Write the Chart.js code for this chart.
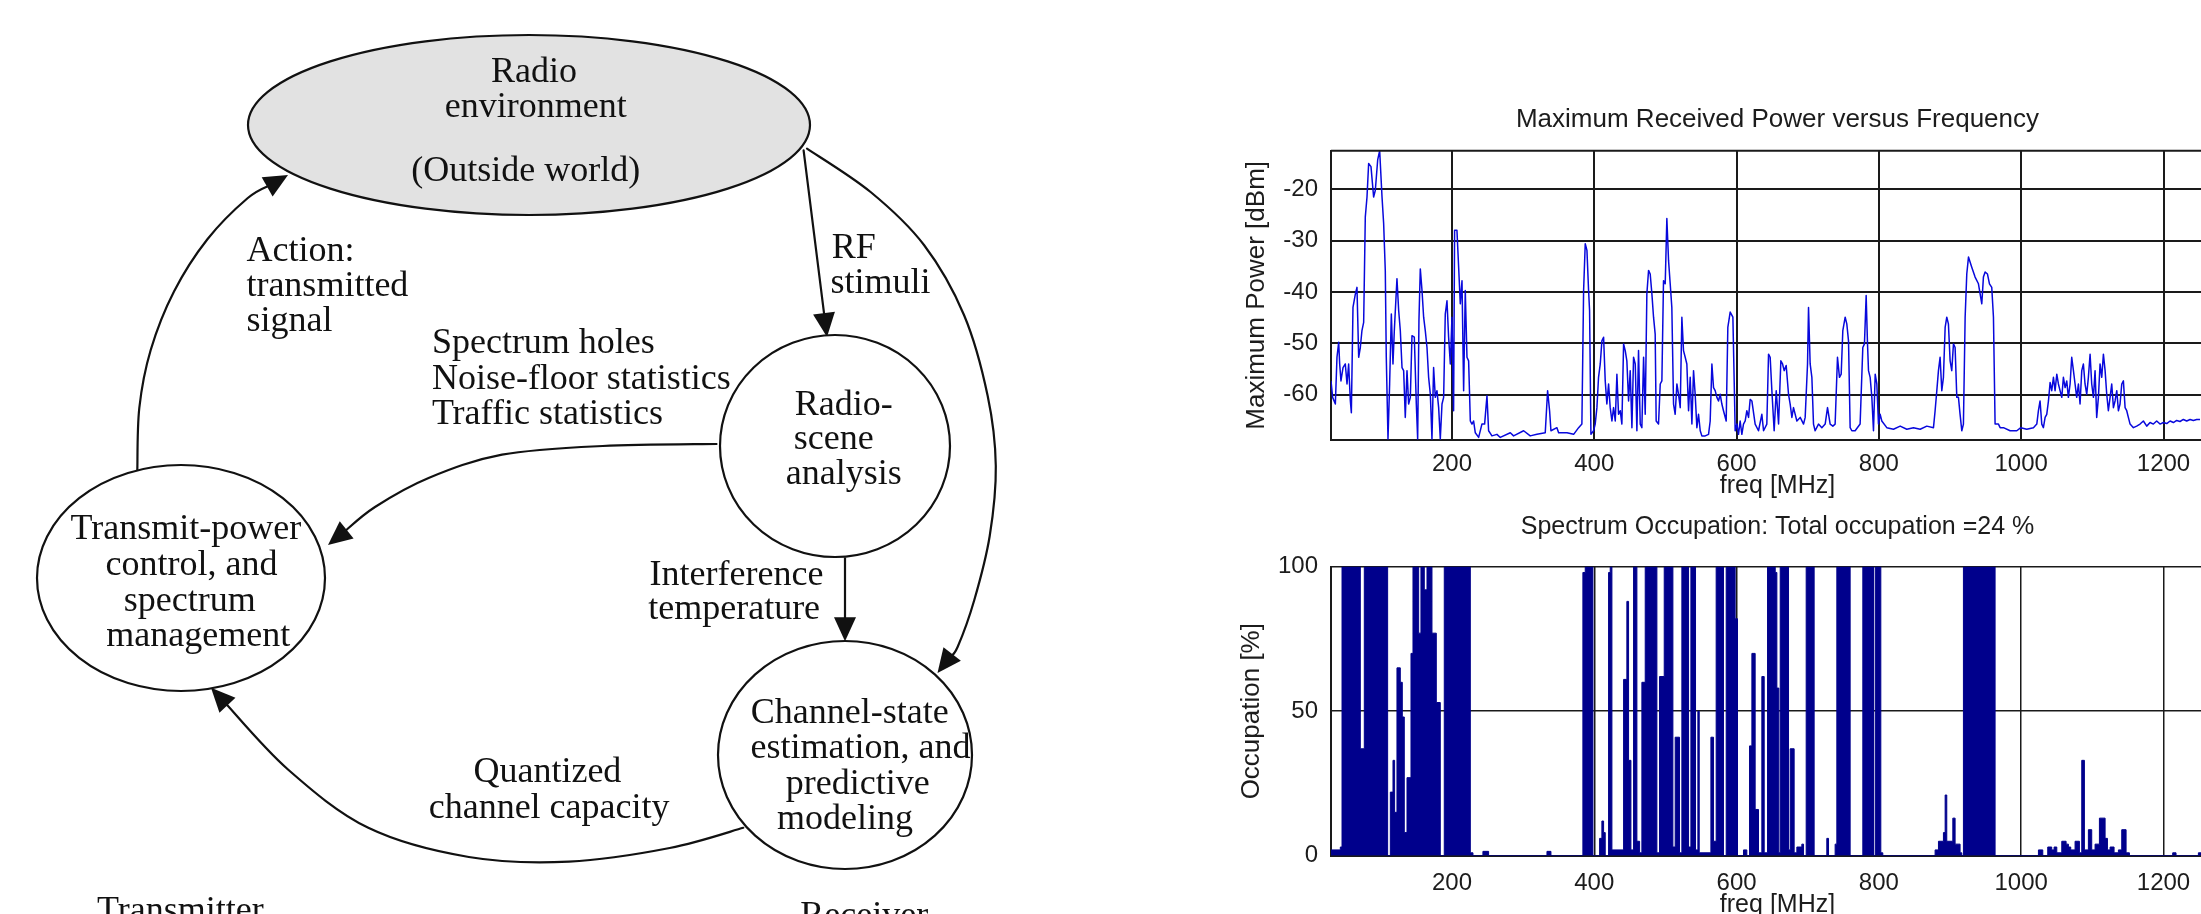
<!DOCTYPE html>
<html>
<head>
<meta charset="utf-8">
<script src="https://cdn.jsdelivr.net/npm/chart.js@4.4.1/dist/chart.umd.min.js"></script>
<style>
  html, body { margin: 0; padding: 0; background: #ffffff; width: 2201px; height: 914px; overflow: hidden; }
  canvas { position: absolute; }
</style>
</head>
<body>
<canvas id="diag" width="1000" height="914" style="left:0px;top:0px;width:1000px;height:914px"></canvas>
<canvas id="power" width="1150" height="420" style="left:1150px;top:90px;width:1150px;height:420px"></canvas>
<canvas id="occ" width="1150" height="440" style="left:1150px;top:495px;width:1150px;height:440px"></canvas>
<script>
// ---------------- DATA ----------------
const powerFreq = [30.0,32.3,36.1,38.4,40.8,42.2,44.0,46.9,50.1,52.5,54.8,57.2,58.6,60.9,64.2,66.5,68.9,71.2,73.5,75.9,78.2,80.6,82.9,86.2,89.9,92.3,95.6,98.4,101.7,104.0,106.3,107.7,110.1,112.4,114.8,117.1,119.0,122.7,125.1,127.4,129.8,132.1,134.4,136.8,139.1,141.5,143.8,147.1,149.9,151.8,153.6,155.5,157.9,160.2,162.5,164.9,167.2,169.6,171.9,174.2,176.6,178.9,181.3,183.6,186.0,188.3,190.6,193.0,195.3,197.7,200.0,202.3,203.7,207.0,209.4,211.7,214.1,216.4,218.7,221.1,223.4,225.8,228.1,230.4,232.8,237.5,242.1,245.9,247.8,249.2,251.5,256.2,263.2,267.9,282.0,286.6,300.7,310.0,319.4,331.1,334.4,337.2,339.1,347.5,349.9,361.6,371.0,378.0,382.6,385.0,387.3,389.7,392.0,393.4,395.3,399.0,401.3,403.7,406.0,408.4,410.7,413.1,415.4,417.7,420.1,422.4,424.8,427.1,429.5,431.8,434.1,436.5,438.8,441.2,443.5,445.8,448.2,450.5,452.9,455.2,457.6,459.9,462.2,464.6,466.9,469.3,471.6,473.9,476.3,478.6,481.0,483.3,485.6,487.0,490.3,492.7,495.0,497.3,499.7,502.0,504.4,506.7,509.0,511.4,513.7,516.1,518.4,520.8,523.1,525.4,527.8,530.1,532.5,534.8,537.2,539.5,541.8,544.2,546.5,548.9,551.2,555.9,560.6,562.9,565.3,567.6,569.9,572.3,574.6,577.0,579.3,581.6,585.4,587.7,591.0,594.8,597.1,598.0,600.4,602.7,605.0,607.4,609.7,612.1,614.4,616.8,619.1,621.5,626.1,630.8,635.5,637.9,642.5,644.9,647.2,649.6,652.8,655.7,659.0,662.2,664.6,666.9,669.7,673.0,675.3,677.7,680.0,684.7,689.4,694.1,696.4,699.7,701.1,703.4,705.8,708.1,710.4,715.1,719.8,724.5,727.8,731.5,735.3,738.5,741.8,744.6,747.0,749.3,752.6,754.9,757.3,759.6,762.0,766.6,773.6,777.4,779.7,782.1,784.0,785.4,787.7,790.1,792.4,794.8,797.1,799.4,801.8,804.1,811.1,820.5,829.9,839.2,848.6,858.0,867.3,876.7,879.0,881.4,883.7,886.0,888.4,890.7,893.1,895.4,897.7,900.1,902.4,904.8,907.1,909.5,911.8,914.1,916.5,918.8,921.2,923.5,925.9,930.5,935.2,939.9,944.6,946.9,949.3,952.6,955.4,958.6,961.0,963.3,968.0,970.4,975.0,984.4,993.8,999.4,1007.8,1017.2,1021.9,1024.2,1026.5,1028.9,1031.2,1033.6,1035.9,1038.3,1040.6,1042.9,1045.3,1047.6,1050.0,1052.3,1054.6,1057.0,1059.3,1061.7,1064.0,1066.3,1068.7,1071.0,1073.4,1075.7,1078.0,1080.4,1082.7,1085.1,1087.4,1089.7,1092.1,1094.4,1096.8,1099.1,1101.5,1103.8,1106.1,1108.5,1110.8,1113.2,1115.5,1117.9,1120.2,1122.5,1124.9,1127.2,1129.6,1131.9,1134.3,1136.6,1138.9,1141.3,1143.6,1146.0,1148.3,1150.6,1153.0,1157.7,1162.3,1167.0,1171.7,1176.4,1181.1,1185.7,1190.4,1195.1,1199.8,1204.5,1209.2,1213.9,1218.5,1223.2,1227.9,1232.6,1237.3,1242.0,1246.6,1251.3];
const powerDbm = [-57.3,-60.5,-61.8,-52.7,-49.8,-54.0,-57.3,-54.7,-54.0,-57.9,-54.0,-61.2,-63.5,-43.0,-40.4,-39.1,-52.7,-50.8,-47.5,-45.9,-25.4,-21.5,-15.0,-15.6,-21.5,-20.2,-14.3,-12.5,-21.5,-26.7,-35.8,-52.7,-68.6,-57.9,-44.3,-54.0,-47.5,-37.4,-43.6,-47.5,-54.7,-55.3,-64.4,-55.3,-61.8,-60.5,-48.5,-48.8,-61.8,-68.6,-45.6,-35.5,-39.7,-44.9,-47.5,-50.8,-56.6,-59.9,-68.6,-54.7,-60.5,-59.2,-62.5,-68.6,-61.8,-60.5,-44.3,-41.7,-48.8,-54.0,-44.9,-63.1,-28.0,-28.0,-35.2,-42.3,-37.8,-59.2,-39.7,-52.7,-53.4,-65.1,-65.7,-65.1,-67.4,-68.3,-65.7,-65.7,-62.5,-60.2,-67.0,-68.0,-67.7,-68.3,-67.4,-68.0,-67.0,-68.0,-67.7,-67.4,-59.2,-63.1,-67.0,-66.4,-67.4,-67.4,-67.7,-66.4,-65.7,-39.7,-30.6,-31.9,-39.7,-43.6,-67.7,-67.0,-65.7,-62.5,-56.6,-54.0,-49.5,-48.8,-57.3,-61.8,-57.9,-62.5,-65.1,-62.5,-65.1,-56.0,-63.8,-63.1,-65.7,-50.1,-51.4,-53.4,-61.2,-55.3,-66.4,-52.7,-54.0,-67.0,-51.4,-65.7,-66.4,-52.7,-63.8,-40.4,-35.8,-36.5,-40.4,-44.9,-48.2,-65.1,-65.7,-57.9,-57.3,-37.8,-38.4,-25.7,-33.9,-38.4,-43.0,-61.8,-63.8,-57.9,-59.9,-62.5,-44.9,-51.4,-52.7,-54.0,-63.1,-56.6,-65.7,-55.3,-59.9,-66.4,-63.8,-67.0,-68.0,-68.0,-67.7,-65.1,-54.0,-58.6,-59.2,-60.5,-61.2,-59.9,-61.8,-63.1,-65.1,-46.9,-43.9,-44.9,-60.5,-67.0,-65.7,-67.7,-65.1,-67.7,-65.7,-65.1,-63.1,-64.4,-60.9,-61.2,-65.7,-67.0,-63.8,-67.0,-65.7,-52.1,-52.7,-59.2,-67.0,-59.2,-65.7,-53.4,-54.0,-55.3,-54.3,-59.9,-61.8,-64.4,-62.5,-65.1,-64.4,-65.7,-64.4,-54.0,-43.0,-54.0,-56.6,-65.7,-67.0,-65.7,-66.4,-65.7,-62.5,-65.7,-66.1,-65.7,-52.7,-56.6,-56.0,-47.5,-44.9,-46.2,-49.5,-66.4,-67.0,-67.0,-65.7,-50.8,-50.1,-40.7,-50.1,-55.3,-56.6,-60.5,-67.0,-56.0,-57.9,-65.7,-63.8,-65.1,-66.4,-66.7,-66.1,-66.7,-66.4,-66.7,-66.1,-66.4,-63.1,-59.2,-55.3,-52.7,-59.2,-56.6,-46.9,-44.9,-46.2,-53.4,-55.3,-50.1,-50.8,-60.5,-60.5,-63.8,-67.0,-65.7,-44.9,-36.5,-33.2,-35.2,-37.1,-38.4,-42.3,-37.1,-36.1,-36.5,-38.4,-39.1,-44.9,-65.7,-65.7,-66.4,-66.4,-67.0,-67.0,-66.4,-66.7,-66.4,-65.7,-63.1,-61.2,-65.7,-66.4,-64.4,-63.8,-61.2,-57.6,-59.2,-56.6,-59.2,-56.0,-57.9,-59.2,-60.5,-56.6,-58.6,-57.3,-60.5,-57.9,-52.7,-55.3,-57.9,-60.5,-57.9,-61.8,-55.3,-54.0,-57.9,-59.9,-56.6,-52.1,-57.9,-60.5,-55.3,-64.4,-60.5,-54.0,-56.6,-52.1,-55.3,-59.9,-63.1,-60.5,-57.9,-62.5,-61.2,-59.2,-63.1,-61.8,-57.9,-57.3,-62.5,-63.1,-64.4,-65.7,-66.4,-66.1,-65.7,-65.1,-66.1,-65.4,-65.7,-65.1,-65.7,-65.4,-65.6,-65.1,-65.4,-65.0,-65.2,-64.8,-65.1,-64.8,-65.0,-64.8,-64.8];

const occFreq = [30.0,43.1,45.5,71.2,76.8,109.6,113.4,117.1,119.4,122.7,127.4,130.2,133.0,136.8,142.4,145.2,153.2,156.4,161.1,164.9,171.9,178.0,183.6,189.2,225.8,229.5,243.5,251.5,333.5,339.1,384.0,387.3,398.1,407.5,410.7,413.1,415.4,420.1,422.4,424.8,441.2,445.8,448.2,451.5,455.2,459.9,463.7,466.9,471.6,488.0,491.7,498.3,510.5,513.7,519.8,523.1,532.5,535.8,542.3,545.6,547.5,563.9,567.6,571.3,581.6,585.4,598.0,601.3,609.7,614.4,618.2,621.5,626.1,630.8,635.5,638.8,643.5,654.3,656.6,659.4,661.3,673.0,675.3,680.9,684.7,691.7,694.1,697.8,709.0,726.8,729.2,738.5,740.9,759.6,777.4,792.4,794.8,802.7,805.5,879.0,883.7,890.7,893.1,895.4,903.9,907.1,914.1,916.5,918.8,963.3,1024.2,1030.3,1037.3,1042.9,1046.2,1050.0,1057.0,1063.1,1066.3,1069.6,1075.7,1081.8,1085.1,1088.8,1094.4,1099.1,1103.8,1109.9,1117.9,1121.2,1124.9,1130.5,1136.6,1141.3,1147.4,1152.1,1212.9,1217.6,1249.0,1252.8];
const occPct = [2,3,100,37,100,0,22,33,15,65,60,48,8,27,70,100,77,100,92,100,77,53,0,100,1,0,1.5,0,1.5,0,98,100,0,6,12,8,0,98,100,2,61,88,33,2,100,5,1,60,100,1,62,100,3,41,1,100,3,100,2,50,1,41,5,100,0,100,82,0,2,0,38,70,16,1,62,1,100,98,58,1,100,2,37,1,3,4,0,100,0,6,0,4,100,0,100,0,100,1,0,2,5,8,21,5,13,4,1,0,100,0,2,0,3,2,3,1,5,4,3,2,5,1,33,2,9,2,4,13,6,2,3,1,2,9,1,0,1,0,1,1];

const freqTicks = [200, 400, 600, 800, 1000, 1200];
const powerTicks = [-60, -50, -40, -30, -20];
const occTicks = [0, 50, 100];

// ---------------- DIAGRAM (cognitive cycle) ----------------
const diagramNodes = [
  { cx: 529, cy: 125, rx: 281, ry: 90,  fill: '#e2e2e2' },
  { cx: 835, cy: 446, rx: 115, ry: 111, fill: '#ffffff' },
  { cx: 181, cy: 578, rx: 144, ry: 113, fill: '#ffffff' },
  { cx: 845, cy: 755, rx: 127, ry: 114, fill: '#ffffff' }
];
const diagramLabels = [
  ['Radio', 534, 81.6, 'center'],
  ['environment', 535.7, 116.6, 'center'],
  ['(Outside world)', 525.7, 181, 'center'],
  ['Action:', 246.4, 260.6, 'left'],
  ['transmitted', 246.4, 296, 'left'],
  ['signal', 246.4, 331, 'left'],
  ['RF', 831.7, 258.2, 'left'],
  ['stimuli', 830.4, 293.2, 'left'],
  ['Spectrum holes', 431.9, 352.7, 'left'],
  ['Noise-floor statistics', 431.9, 388.8, 'left'],
  ['Traffic statistics', 431.9, 424.4, 'left'],
  ['Radio-', 843.8, 415, 'center'],
  ['scene', 833.7, 448.9, 'center'],
  ['analysis', 843.8, 483.8, 'center'],
  ['Transmit-power', 185.8, 539.2, 'center'],
  ['control, and', 191.5, 575.3, 'center'],
  ['spectrum', 189.8, 610.9, 'center'],
  ['management', 198.2, 645.9, 'center'],
  ['Interference', 649.6, 584.7, 'left'],
  ['temperature', 648.2, 619, 'left'],
  ['Channel-state', 849.8, 722.8, 'center'],
  ['estimation, and', 860.5, 757.8, 'center'],
  ['predictive', 857.8, 794, 'center'],
  ['modeling', 845.1, 829, 'center'],
  ['Quantized', 547.4, 782.3, 'center'],
  ['channel capacity', 549.1, 817.8, 'center'],
  ['Transmitter', 97.1, 921, 'left'],
  ['Receiver', 800.2, 926, 'left']
];
const diagramArrows = [
  [[803.6,150.4],[827,337]],
  [[807,148.6],[870.6,192],[924,245],[964,315],[987.7,396],[995.8,466],[989.7,536],[974.3,600],[957.6,647],[937.5,673]],
  [[137.3,471],[139.3,408],[150.7,350],[174,291.5],[207.6,239],[247.8,198],[288,175]],
  [[716.5,444],[602.7,446],[502,454.7],[428.6,478],[375,507],[328,545]],
  [[845,558.4],[845,641.2]],
  [[743.3,827.8],[669.7,848],[569,861.6],[468.8,857],[368.3,827.8],[288,769.5],[211,687.8]]
];

// ---------------- RENDERING ----------------
const SANS = "'Liberation Sans', Arial, Helvetica, sans-serif";
const SERIF = "'Liberation Serif', 'Times New Roman', Times, serif";
Chart.defaults.font.family = SANS;
Chart.defaults.color = '#1c1c1c';

const diagramPlugin = {
  id: 'diagram',
  afterDatasetsDraw(chart) {
    const { ctx, scales: { x, y } } = chart;
    const X = v => x.getPixelForValue(v);
    const Y = v => y.getPixelForValue(v);
    ctx.save();
    ctx.strokeStyle = '#111';
    ctx.fillStyle = '#111';
    ctx.lineWidth = 2.2;
    ctx.lineJoin = 'round';
    ctx.lineCap = 'round';
    diagramArrows.forEach(pts => {
      const p = pts.map(q => [X(q[0]), Y(q[1])]);
      const n = p.length;
      const tip = p[n - 1], prev = p[n - 2];
      let dx = tip[0] - prev[0], dy = tip[1] - prev[1];
      const len = Math.hypot(dx, dy); dx /= len; dy /= len;
      const L = 24, W = 11;
      const end = [tip[0] - dx * L * 0.8, tip[1] - dy * L * 0.8];
      const pp = p.slice(0, n - 1).concat([end]);
      ctx.beginPath();
      ctx.moveTo(pp[0][0], pp[0][1]);
      for (let i = 0; i < pp.length - 1; i++) {
        const p0 = pp[Math.max(0, i - 1)], p1 = pp[i], p2 = pp[i + 1], p3 = pp[Math.min(pp.length - 1, i + 2)];
        const c1 = [p1[0] + (p2[0] - p0[0]) / 6, p1[1] + (p2[1] - p0[1]) / 6];
        const c2 = [p2[0] - (p3[0] - p1[0]) / 6, p2[1] - (p3[1] - p1[1]) / 6];
        ctx.bezierCurveTo(c1[0], c1[1], c2[0], c2[1], p2[0], p2[1]);
      }
      ctx.stroke();
      const bx = tip[0] - dx * L, by = tip[1] - dy * L;
      ctx.beginPath();
      ctx.moveTo(tip[0], tip[1]);
      ctx.lineTo(bx - dy * W, by + dx * W);
      ctx.lineTo(bx + dy * W, by - dx * W);
      ctx.closePath();
      ctx.fill();
    });
    diagramNodes.forEach(nd => {
      const cx = X(nd.cx), cy = Y(nd.cy);
      const rx = X(nd.cx + nd.rx) - cx, ry = Math.abs(Y(nd.cy + nd.ry) - cy);
      ctx.beginPath();
      ctx.ellipse(cx, cy, rx, ry, 0, 0, Math.PI * 2);
      ctx.fillStyle = nd.fill;
      ctx.fill();
      ctx.stroke();
    });
    ctx.fillStyle = '#111';
    ctx.font = '36px ' + SERIF;
    ctx.textBaseline = 'alphabetic';
    diagramLabels.forEach(l => {
      ctx.textAlign = l[3];
      ctx.fillText(l[0], X(l[1]), Y(l[2]));
    });
    ctx.restore();
  }
};

new Chart(document.getElementById('diag'), {
  type: 'scatter',
  data: { datasets: [{ data: diagramNodes.map(n => ({ x: n.cx, y: n.cy })), pointRadius: 0 }] },
  options: {
    responsive: false, animation: false, events: [],
    layout: { padding: 0 },
    plugins: { legend: { display: false }, tooltip: { enabled: false } },
    scales: {
      x: { type: 'linear', min: 0, max: 1000, display: false },
      y: { type: 'linear', min: 0, max: 914, reverse: true, display: false }
    }
  },
  plugins: [diagramPlugin]
});

const topFrame = {
  id: 'topFrame',
  afterDatasetsDraw(chart, args, opts) {
    const { ctx, chartArea: a } = chart;
    ctx.save();
    ctx.strokeStyle = opts.color;
    ctx.lineWidth = opts.width;
    ctx.beginPath();
    ctx.moveTo(a.left, a.top);
    ctx.lineTo(a.right, a.top);
    ctx.stroke();
    ctx.restore();
  }
};

const GRID = '#1a1a1a';

new Chart(document.getElementById('power'), {
  type: 'line',
  data: {
    datasets: [{
      data: powerFreq.map((f, i) => ({ x: f, y: powerDbm[i] })),
      borderColor: '#0808dc', borderWidth: 1.5, pointRadius: 0, fill: false, tension: 0,
      borderJoinStyle: 'round'
    }]
  },
  options: {
    responsive: false, animation: false, events: [],
    layout: { padding: { left: 0, right: 76, top: 0, bottom: 9 } },
    plugins: {
      legend: { display: false }, tooltip: { enabled: false },
      title: { display: true, text: 'Maximum Received Power versus Frequency', fullSize: false,
               font: { size: 26, weight: 'normal', lineHeight: 1.2 }, color: '#1c1c1c',
               padding: { top: 14.1, bottom: 15.4 } },
      topFrame: { color: GRID, width: 2 }
    },
    scales: {
      x: {
        type: 'linear', min: 30, max: 1285,
        afterBuildTicks: s => { s.ticks = freqTicks.map(v => ({ value: v })); },
        afterFit: s => { s.height = 61; },
        grid: { color: GRID, lineWidth: 2, drawTicks: false },
        border: { display: true, color: GRID, width: 2 },
        ticks: { padding: 9.6, font: { size: 24 }, maxRotation: 0, autoSkip: false, callback: v => String(v) },
        title: { display: true, text: 'freq [MHz]', font: { size: 25 }, padding: { top: 0, bottom: 0 } }
      },
      y: {
        type: 'linear', min: -68.8, max: -12.5,
        afterBuildTicks: s => { s.ticks = powerTicks.map(v => ({ value: v })); },
        afterFit: s => { s.width = 181; },
        grid: { color: GRID, lineWidth: 2, drawTicks: false },
        border: { display: true, color: GRID, width: 2 },
        ticks: { padding: 13, font: { size: 24 }, callback: v => String(v) },
        title: { display: true, text: 'Maximum Power [dBm]', font: { size: 26 }, padding: { top: 91, bottom: 0 } }
      }
    }
  },
  plugins: [topFrame]
});

new Chart(document.getElementById('occ'), {
  type: 'line',
  data: {
    datasets: [{
      data: occFreq.map((f, i) => ({ x: f, y: occPct[i] })),
      stepped: true, fill: 'origin',
      backgroundColor: '#00008c', borderColor: '#00008c', borderWidth: 1, pointRadius: 0
    }]
  },
  options: {
    responsive: false, animation: false, events: [],
    layout: { padding: { left: 0, right: 76, top: 0, bottom: 0 } },
    plugins: {
      legend: { display: false }, tooltip: { enabled: false },
      title: { display: true, text: 'Spectrum Occupation: Total occupation =24 %', fullSize: false,
               font: { size: 25, weight: 'normal', lineHeight: 1.2 }, color: '#1c1c1c',
               padding: { top: 16.7, bottom: 25 } }
    },
    scales: {
      x: {
        type: 'linear', min: 30, max: 1285,
        afterBuildTicks: s => { s.ticks = freqTicks.map(v => ({ value: v })); },
        afterFit: s => { s.height = 79.3; },
        grid: { color: GRID, lineWidth: 1.5, drawTicks: false },
        border: { display: true, color: GRID, width: 2 },
        ticks: { padding: 12.9, font: { size: 24 }, maxRotation: 0, autoSkip: false, callback: v => String(v) },
        title: { display: true, text: 'freq [MHz]', font: { size: 25 }, padding: { top: 0, bottom: 15 } }
      },
      y: {
        type: 'linear', min: 0, max: 100,
        afterBuildTicks: s => { s.ticks = occTicks.map(v => ({ value: v })); },
        afterFit: s => { s.width = 181; },
        grid: { color: GRID, lineWidth: 1.5, drawTicks: false },
        border: { display: true, color: GRID, width: 2 },
        ticks: { padding: 13, font: { size: 24 }, callback: v => String(v) },
        title: { display: true, text: 'Occupation [%]', font: { size: 26 }, padding: { top: 86, bottom: 0 } }
      }
    }
  }
});
</script>
</body>
</html>
